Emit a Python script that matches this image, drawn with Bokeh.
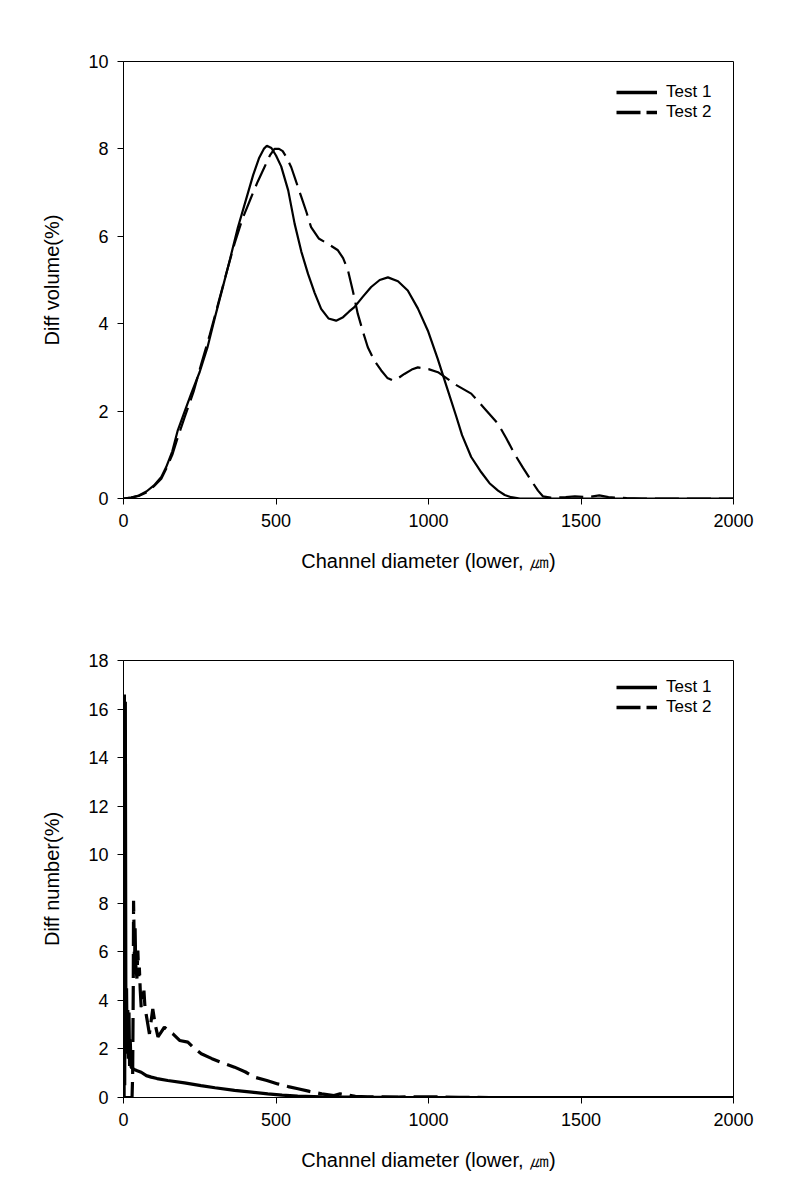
from bokeh.plotting import figure
from bokeh.layouts import column
from bokeh.models import FixedTicker, Legend, LegendItem, Range1d
from bokeh.embed import file_html
from bokeh.resources import INLINE

FONT = "Liberation Sans"
NAN = float("nan")

# ---------------- data ----------------
x_ticks = [0, 500, 1000, 1500, 2000]
vol_y_ticks = [0, 2, 4, 6, 8, 10]
num_y_ticks = [0, 2, 4, 6, 8, 10, 12, 14, 16, 18]
series_names = ["Test 1", "Test 2"]
x_label = "Channel diameter (lower, ㎛)"
vol_label = "Diff volume(%)"
num_label = "Diff number(%)"

vol_t1_x = [0, 25, 50, 75, 100, 124, 140, 160, 178, 200, 222, 250, 275, 300, 325, 350, 375, 400,
            425, 445, 460, 470, 485, 500, 517, 540, 561, 583, 605, 627, 648, 672, 697, 720, 740,
            757, 785, 812, 840, 867, 900, 932, 965, 998, 1030, 1060, 1090, 1110, 1140, 1173,
            1200, 1228, 1250, 1271, 1300, 2000]
vol_t1_y = [0, 0.02, 0.07, 0.16, 0.3, 0.49, 0.72, 1.08, 1.56, 1.98, 2.4, 2.9, 3.45, 4.15, 4.82,
            5.5, 6.2, 6.8, 7.4, 7.8, 8.0, 8.07, 8.02, 7.85, 7.6, 7.05, 6.29, 5.65, 5.14, 4.7,
            4.34, 4.12, 4.07, 4.15, 4.28, 4.38, 4.62, 4.84, 5.0, 5.06, 4.97, 4.76, 4.35, 3.84,
            3.2, 2.55, 1.9, 1.45, 0.95, 0.6, 0.35, 0.18, 0.08, 0.03, 0.0, 0.0]

vol_t2_x = [0, 25, 50, 75, 100, 124, 140, 160, 178, 200, 230, 255, 283, 310, 337, 364, 390, 419,
            440, 462, 480, 495, 510, 522, 535, 550, 566, 583, 600, 615, 640, 670, 703, 720, 736,
            752, 768, 785, 801, 823, 845, 865, 883, 900, 921, 945, 965, 1000, 1031, 1060, 1090,
            1140, 1185, 1228, 1255, 1282, 1310, 1337, 1359, 1375, 1400, 1450, 1480, 1520, 1560,
            1590, 1650, 1700, 2000]
vol_t2_y = [0, 0.02, 0.06, 0.14, 0.28, 0.45, 0.68, 1.0, 1.4, 1.85, 2.45, 3.08, 3.75, 4.45, 5.15,
            5.83, 6.4, 6.9, 7.25, 7.58, 7.85, 8.0, 8.0, 7.95, 7.8, 7.58, 7.25, 6.9, 6.55, 6.21,
            5.95, 5.83, 5.68, 5.5, 5.22, 4.75, 4.23, 3.82, 3.46, 3.15, 2.93, 2.76, 2.70, 2.75,
            2.85, 2.95, 3.0, 2.96, 2.89, 2.75, 2.6, 2.4, 2.05, 1.71, 1.38, 1.02, 0.7, 0.41, 0.18,
            0.05, 0.02, 0.03, 0.05, 0.03, 0.07, 0.03, 0.01, 0.0, 0.0]

num_t1_x = [0, 2, 3, 4, 6, 8, 10, 12, 14, 16, 18, 20, 22, 25, 35, 45, 58, 75, 91, 110, 145, 200,
            254, 300, 364, 420, 473, 520, 571, 650, 750, 900, 1100, 2000]
num_t1_y = [0, 0, 16.6, 0.5, 16.3, 1.8, 4.5, 1.9, 3.6, 1.6, 3.5, 1.3, 2.4, 1.25, 1.15, 1.1, 1.04,
            0.9, 0.84, 0.78, 0.7, 0.6, 0.49, 0.4, 0.29, 0.22, 0.15, 0.1, 0.06, 0.03, 0.02, 0.01,
            0.0, 0.0]

num_t2_x = [0, 28, 30, 32, 33, 35, 36, 38, 40, 44, 47, 50, 52, 55, 58, 63, 67, 70, 74, 80, 85,
            90, 96, 104, 113, 124, 134, 148, 162, 184, 211, 230, 255, 290, 320, 364, 400, 429,
            470, 506, 540, 572, 610, 650, 690, 710, 730, 760, 800, 900, 1000, 1100, 1200, 2000]
num_t2_y = [0, 0, 0.9, 4.5, 8.1, 6.5, 5.2, 7.0, 5.5, 4.9, 6.05, 5.0, 5.35, 4.4, 3.72, 4.1, 4.4,
            3.8, 3.45, 3.0, 2.62, 3.1, 3.65, 3.0, 2.5, 2.7, 2.9, 2.75, 2.62, 2.35, 2.28, 2.05,
            1.8, 1.6, 1.45, 1.25, 1.05, 0.84, 0.7, 0.56, 0.45, 0.36, 0.25, 0.15, 0.08, 0.15,
            0.12, 0.05, 0.03, 0.02, 0.03, 0.01, 0.0, 0.0]


def make_fig(height, b_top, b_bottom, ymax, yticks, ylabel, data, lw, legend_y):
    p = figure(width=803, height=height, output_backend="svg", toolbar_location=None,
               x_range=Range1d(0, 2000), y_range=Range1d(0, ymax),
               min_border_left=123, min_border_right=70,
               min_border_top=b_top, min_border_bottom=b_bottom,
               background_fill_color="white", border_fill_color="white")
    p.outline_line_color = "black"
    p.outline_line_width = 1
    p.outline_line_alpha = 1
    p.xgrid.visible = False
    p.ygrid.visible = False

    p.xaxis.ticker = FixedTicker(ticks=x_ticks, minor_ticks=[])
    p.yaxis.ticker = FixedTicker(ticks=yticks, minor_ticks=[])
    for ax in (p.xaxis[0], p.yaxis[0]):
        ax.axis_line_color = "black"
        ax.axis_line_width = 1
        ax.major_tick_line_color = "black"
        ax.major_tick_out = 6
        ax.major_tick_in = 0
        ax.minor_tick_out = 0
        ax.minor_tick_in = 0
        ax.major_label_text_font = FONT
        ax.major_label_text_font_size = "18px"
        ax.major_label_text_color = "black"
        ax.axis_label_text_font = FONT
        ax.axis_label_text_font_size = "20px"
        ax.axis_label_text_font_style = "normal"
        ax.axis_label_text_color = "black"
    p.xaxis.major_label_standoff = 9
    p.yaxis.major_label_standoff = 9
    p.xaxis.axis_label = x_label
    p.yaxis.axis_label = ylabel
    p.xaxis.axis_label_standoff = 20
    p.yaxis.axis_label_standoff = 22

    (x1, y1), (x2, y2) = data
    p.line(x1, y1, line_color="black", line_width=lw)
    p.line(x2, y2, line_color="black", line_width=lw, line_dash="24 8")

    # legend proxies (thicker, as in the reference legend)
    l1 = p.line([NAN], [NAN], line_color="black", line_width=3.5)
    l2 = p.line([NAN], [NAN], line_color="black", line_width=3.5, line_dash="24 6")
    leg = Legend(items=[LegendItem(label=series_names[0], renderers=[l1], index=0),
                        LegendItem(label=series_names[1], renderers=[l2], index=0)],
                 location=(493, legend_y), border_line_alpha=0, background_fill_alpha=0,
                 padding=0, margin=0, spacing=0, glyph_width=41, glyph_height=20,
                 label_height=20, label_standoff=9, label_text_font=FONT,
                 label_text_font_size="17px", label_text_color="black")
    p.add_layout(leg, "center")
    return p


p1 = make_fig(600, 61, 102, 10, vol_y_ticks, vol_label,
              [(vol_t1_x, vol_t1_y), (vol_t2_x, vol_t2_y)], 2.2, 376)
p2 = make_fig(577, 60, 80, 18, num_y_ticks, num_label,
              [(num_t1_x, num_t1_y), (num_t2_x, num_t2_y)], 3.2, 380)

layout = column(p1, p2, spacing=0)
open("out.html", "w").write(file_html(layout, INLINE))
